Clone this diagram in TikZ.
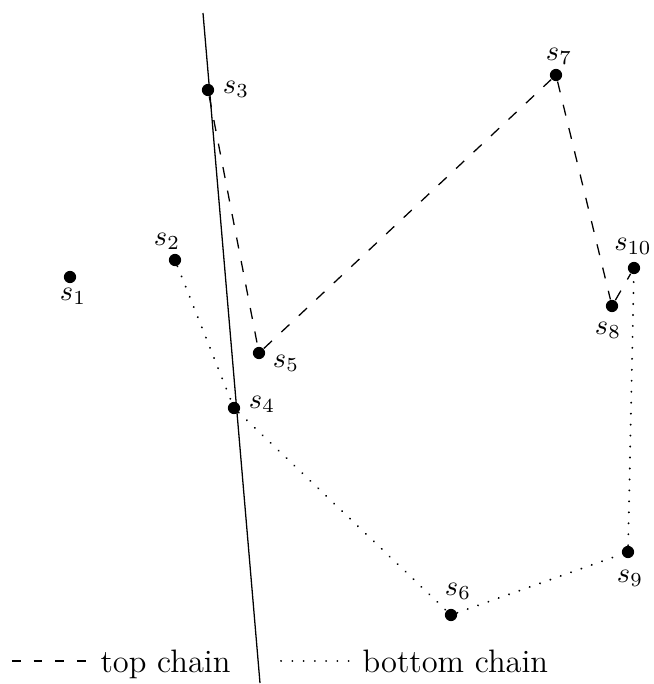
\documentclass[tikz,border=0pt]{standalone}
\begin{document}
\begin{tikzpicture}[x=0.351pt,y=-0.351pt,
  site/.style={circle,fill=black,inner sep=0pt,minimum size=4.3pt},
  lbl/.style={anchor=base,inner sep=0pt},
  topchain/.style={line width=0.45pt,dash pattern=on 3.9pt off 4.5pt},
  botchain/.style={line width=0.7pt,line cap=round,dash pattern=on 0.05pt off 3.8pt},
  sepline/.style={line width=0.45pt},
  legtext/.style={anchor=base west,inner sep=0pt,font=\fontsize{11.4}{13}\selectfont}]
\useasboundingbox (0,0) rectangle (653,684);

% separating line
\coordinate (la) at (203,13);
\coordinate (lb) at (260,683);
\draw[sepline] (la) -- (lb);

% sites
\node[site] (s1) at (70,277) {};
\node[site] (s2) at (175,260) {};
\node[site] (s3) at (208,90) {};
\node[site] (s4) at (234,408) {};
\node[site] (s5) at (259,353) {};
\node[site] (s6) at (451,615) {};
\node[site] (s7) at (556,75) {};
\node[site] (s8) at (612,306) {};
\node[site] (s9) at (628,552) {};
\node[site] (s10) at (634,268) {};

% labels
\node[lbl] (l1) at (73,300) {$s_1$};
\node[lbl] (l2) at (167,245) {$s_2$};
\node[lbl] (l3) at (236,93) {$s_3$};
\node[lbl] (l4) at (262,408) {$s_4$};
\node[lbl] (l5) at (286,367) {$s_5$};
\node[lbl] (l6) at (458,595) {$s_6$};
\node[lbl] (l7) at (559,60) {$s_7$};
\node[lbl] (l8) at (608,334) {$s_8$};
\node[lbl] (l9) at (630,582) {$s_9$};
\node[lbl] (l10) at (633,250) {$s_{10}$};

% chains
\draw[topchain] (s3) -- (s5) -- (s7) -- (s8) -- (s10);
\draw[botchain] (s2) -- (s4) -- (s6) -- (s9) -- (s10);

% legend
\coordinate (da) at (12,661);
\coordinate (db) at (86,661);
\draw[line width=0.45pt,dash pattern=on 3pt off 4.6pt] (da) -- (db);
\node[legtext] (tt) at (100,672) {top chain};
\coordinate (pa) at (281,661);
\coordinate (pb) at (349,661);
\draw[line width=0.7pt,line cap=round,dash pattern=on 0.05pt off 3.9pt] (pa) -- (pb);
\node[legtext] (bt) at (362,672) {bottom chain};
\end{tikzpicture}
\end{document}
